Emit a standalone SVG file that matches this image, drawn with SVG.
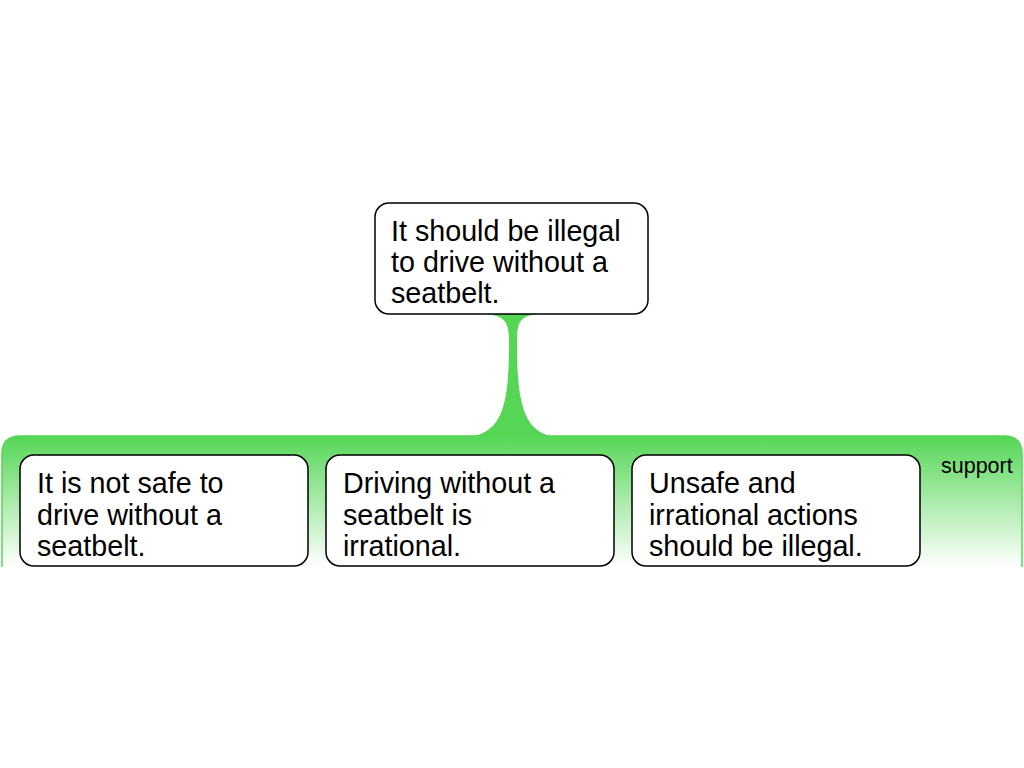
<svg xmlns="http://www.w3.org/2000/svg" width="1024" height="768" viewBox="0 0 1024 768">
<style>
.box{fill:#fff;stroke:#000;stroke-width:1.5}
.t{font-family:"Liberation Sans",Arial,sans-serif;font-size:28.7px;fill:#000}
.lbl{font-family:"Liberation Sans",Arial,sans-serif;font-size:21.5px;fill:#000}
</style>
<defs>
<linearGradient id="g" x1="0" y1="0" x2="0" y2="1">
<stop offset="0" stop-color="#55d655"/>
<stop offset="1" stop-color="#55d655" stop-opacity="0"/>
</linearGradient>
</defs>
<g id="connectors">
<path d="M2,567 L2,454 Q2,436 20,436 L1004,436 Q1022,436 1022,454 L1022,567 Z" fill="url(#g)"/>
<path d="M2,567 L2,454 Q2,436 20,436 L1004,436 Q1022,436 1022,454 L1022,567" fill="none" stroke="#55d655" stroke-width="1.5"/>
<path d="M486,314 L538,314 C522,316 517,320 517,340 C517,400 522,436 560,437 L464,437 C505,436 509,400 509,340 C509,320 503,316 486,314 Z" fill="#55d655"/>
<text class="lbl" x="941" y="473">support</text>
</g>
<g id="n0">
<rect class="box" x="375" y="203" width="273" height="111" rx="14"/>
<text class="t" x="391" y="241">It should be illegal</text>
<text class="t" x="391" y="272">to drive without a</text>
<text class="t" x="391" y="303">seatbelt.</text>
</g>
<g id="n1">
<rect class="box" x="20" y="455" width="288" height="111" rx="14"/>
<text class="t" x="37" y="493">It is not safe to</text>
<text class="t" x="37" y="525">drive without a</text>
<text class="t" x="37" y="556">seatbelt.</text>
</g>
<g id="n2">
<rect class="box" x="326" y="455" width="288" height="111" rx="14"/>
<text class="t" x="343" y="493">Driving without a</text>
<text class="t" x="343" y="525">seatbelt is</text>
<text class="t" x="343" y="556">irrational.</text>
</g>
<g id="n3">
<rect class="box" x="632" y="455" width="288" height="111" rx="14"/>
<text class="t" x="649" y="493">Unsafe and</text>
<text class="t" x="649" y="525">irrational actions</text>
<text class="t" x="649" y="556">should be illegal.</text>
</g>
</svg>
